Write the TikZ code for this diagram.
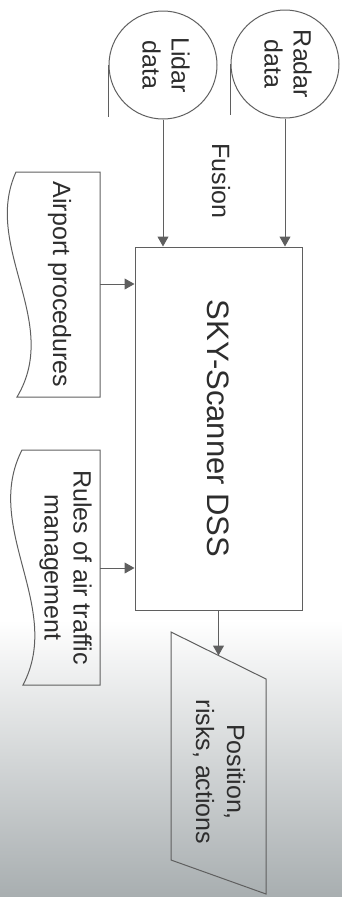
\documentclass[tikz,border=0pt]{standalone}
\usepackage{graphicx}
\usepackage{fontspec}
\setmainfont{Liberation Sans}
\usetikzlibrary{arrows.meta}
\definecolor{linec}{RGB}{95,95,95}
\definecolor{textc}{RGB}{45,45,45}
\definecolor{shadec}{RGB}{168,174,176}
\begin{document}
\begin{tikzpicture}[x=1pt,y=-1pt]
\tikzset{
  shapeline/.style={draw=linec, line width=1pt},
  conn/.style={draw=linec, line width=1pt, -{Triangle[length=10pt,width=11pt]}},
  lbl/.style={text=textc, font=\fontsize{25}{29}\selectfont, inner sep=0pt},
  sourcenode/.style={circle, shapeline, lbl, minimum size=108pt, inner sep=0pt},
}
\useasboundingbox (0,0) rectangle (342,897);
\shade[top color=white, bottom color=shadec] (0,620) rectangle (342,897);

% data sources
\node[sourcenode] (radar) at (285,64)
  {\rotatebox{-90}{\begin{tabular}{@{}c@{}}Radar\\data\end{tabular}}};
\draw[shapeline] (radar.west) -- ++(0,51);
\node[sourcenode] (lidar) at (163,65)
  {\rotatebox{-90}{\begin{tabular}{@{}c@{}}Lidar\\data\end{tabular}}};
\draw[shapeline] (lidar.west) -- ++(0,52);

% main box
\node[shapeline, rectangle, minimum width=167pt, minimum height=363pt, inner sep=0pt,
      text=textc] (dss) at (218.5,428.5)
  {\rotatebox{-90}{\fontsize{31}{36}\selectfont SKY-Scanner DSS}};

\draw[conn] (radar.south) -- (radar.south |- dss.north);
\draw[conn] (lidar.south) -- (lidar.south |- dss.north);
\node[lbl] (fusion) at (221,181) {\rotatebox{-90}{Fusion}};

% airport procedures document
\draw[shapeline] (100,172) -- (16,172)
  .. controls (-18,247) and (62,322) .. (17,397) -- (100,397) -- cycle;
\node[lbl] (airport) at (59.5,284.5) {\rotatebox{-90}{Airport procedures}};
\coordinate (airportE) at (100,284);
\draw[conn] (airportE) -- (airportE -| dss.west);

% rules document
\draw[shapeline] (100,450) -- (22,450)
  .. controls (-18,528) and (64,607) .. (23,685) -- (100,685) -- cycle;
\node[lbl] (rules) at (65,567.5)
  {\rotatebox{-90}{\begin{tabular}{@{}c@{}}Rules of air traffic\\management\end{tabular}}};
\coordinate (rulesE) at (100,568);
\draw[conn] (rulesE) -- (rulesE -| dss.west);

% output
\draw[shapeline] (171,632) -- (266,679) -- (266,894) -- (171,860) -- cycle;
\node[lbl, font=\fontsize{25}{31}\selectfont] (output) at (217.7,772)
  {\rotatebox{-90}{\begin{tabular}{@{}c@{}}Position,\\risks, actions\end{tabular}}};
\coordinate (outtop) at (218.5,655.5);
\draw[conn] (dss.south) -- (outtop);
\end{tikzpicture}
\end{document}
